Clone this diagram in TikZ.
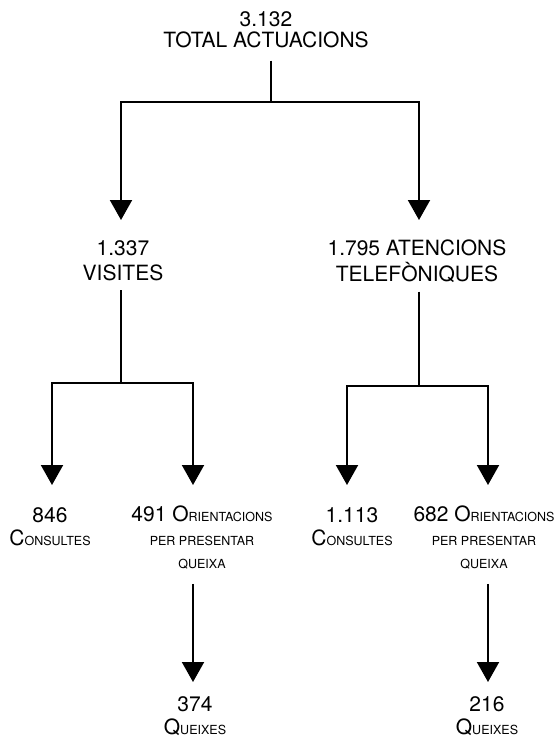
\documentclass[tikz,border=0pt]{standalone}
\usepackage{fontspec}
\setmainfont{TeX Gyre Heros}
\usetikzlibrary{arrows.meta,positioning,calc}

% small capitals drawn as reduced uppercase
\newcommand{\sccase}[1]{{\fontsize{12.5}{12.5}\selectfont\MakeUppercase{#1}}}

\begin{document}
\begin{tikzpicture}[x=1pt,y=-1pt,
         branch/.style = {line width=2pt},
         child/.style  = {branch,-{Triangle[width=22pt,length=20pt]}},
         level0/.style = {anchor=north,inner sep=0pt,align=center,
                          font=\fontsize{21}{21}\selectfont},
         level1/.style = {level0,font=\fontsize{21}{25.5}\selectfont},
         level2/.style = {level0,font=\fontsize{21}{23.5}\selectfont}
]
      \useasboundingbox (0,0) rectangle (554,740);

      % nodes
      \node[level0] (total) at (266,11) {3.132\\TOTAL ACTUACIONS};

      \node[level1] (visites) at (123,240) {1.337\\VISITES};
      \node[level1] (telef)   at (417,240) {1.795 ATENCIONS\\TELEFÒNIQUES};

      \node[level2] (consv) at (50,507)  {846\\C\sccase{onsultes}};
      \node[level2] (orv)   at (202,506) {491 O\sccase{rientacions}\\\sccase{per presentar}\\\sccase{queixa}};
      \node[level2] (const) at (352,507) {1.113\\C\sccase{onsultes}};
      \node[level2] (ort)   at (484,506) {682 O\sccase{rientacions}\\\sccase{per presentar}\\\sccase{queixa}};

      \node[level2] (queixv) at (195,696) {374\\Q\sccase{ueixes}};
      \node[level2] (queixt) at (487,696) {216\\Q\sccase{ueixes}};

      % junctions
      \coordinate (j0) at (271,102);
      \coordinate (jv) at (121,383);
      \coordinate (jt) at (419,386);

      % connectors
      \draw[branch,shorten <=13pt] (total.south -| j0) -- (j0);
      \draw[child,shorten >=20pt] (j0) -| ($(visites.north)+(-2,0)$);
      \draw[child,shorten >=20pt] (j0) -| ($(telef.north)+(2,0)$);

      \draw[branch,shorten <=9pt] (visites.south -| jv) -- (jv);
      \draw[child,shorten >=22pt] (jv) -| ($(consv.north)+(2,0)$);
      \draw[child,shorten >=21pt] (jv) -| ($(orv.north)+(-9,0)$);

      \draw[branch,shorten <=9pt] (telef.south -| jt) -- (jt);
      \draw[child,shorten >=22pt] (jt) -| ($(const.north)+(-5,0)$);
      \draw[child,shorten >=21pt] (jt) -| ($(ort.north)+(4,0)$);

      \draw[child,shorten <=14pt,shorten >=14pt] ($(orv.south)+(-9,0)$) -- ($(queixv.north)+(-2,0)$);
      \draw[child,shorten <=14pt,shorten >=14pt] ($(ort.south)+(4,0)$) -- ($(queixt.north)+(1,0)$);
\end{tikzpicture}
\end{document}
